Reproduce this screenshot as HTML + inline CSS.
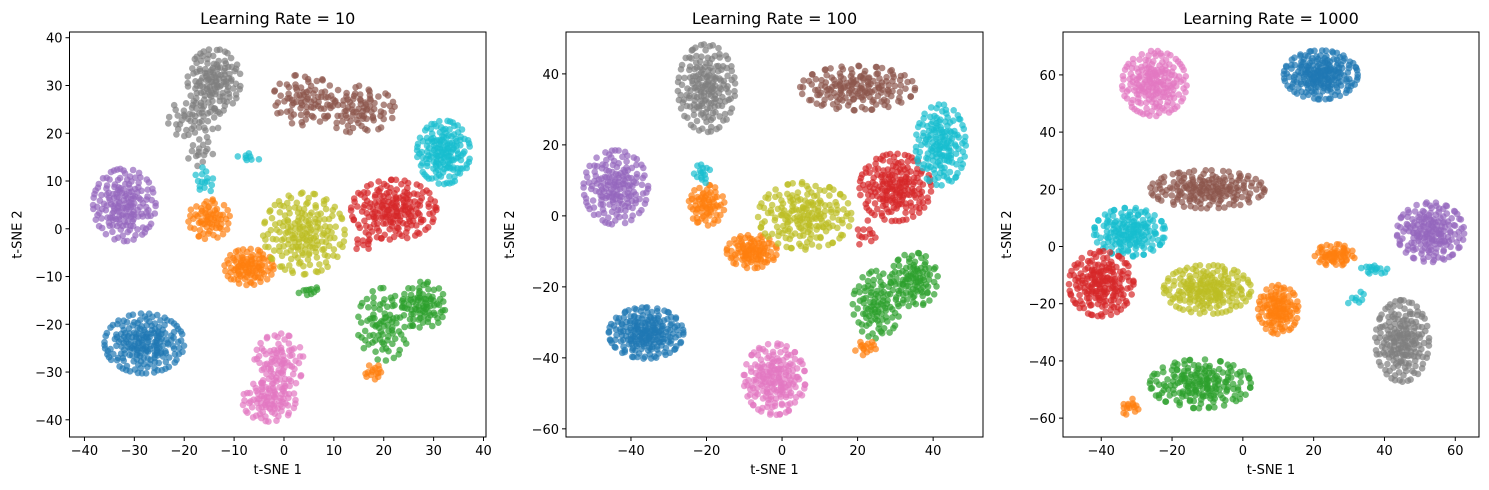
<!DOCTYPE html>
<html><head><meta charset="utf-8">
<style>
body{margin:0;background:#fff;}
svg{display:block;font-family:"DejaVu Sans","Liberation Sans",sans-serif;}
</style></head>
<body>
<svg id="chart" width="1489" height="490" viewBox="0 0 1489 490" xmlns="http://www.w3.org/2000/svg"></svg>
<script>
// Cluster data per panel: color index, center x, center y, spread x, spread y, count
const colors = ["#1f77b4","#ff7f0e","#2ca02c","#d62728","#9467bd","#8c564b","#e377c2","#7f7f7f","#bcbd22","#17becf"];
const titles = ["Learning Rate = 10","Learning Rate = 100","Learning Rate = 1000"];
const xTicks1 = [-40,-30,-20,-10,0,10,20,30,40];
const yTicks1 = [-40,-30,-20,-10,0,10,20,30,40];
const xTicks2 = [-40,-20,0,20,40];
const yTicks2 = [-60,-40,-20,0,20,40];
const xTicks3 = [-40,-20,0,20,40,60];
const yTicks3 = [-60,-40,-20,0,20,40,60];
const clusters1 = [
 [0,-28,-24,4.2,3.3,200],[6,-1,-28,2.6,3.2,90],[6,-3,-36,2.8,2.3,90],
 [2,20,-20,2.8,4,90],[2,28,-16,2.3,2.6,80],[1,18,-30,1.1,0.8,15],
 [3,22,4,4.5,3.3,190],[9,32,16,2.8,3.5,160],
 [5,4,27,3.3,2.8,80],[5,15,25,3.8,2.6,90],
 [7,-14,31,2.8,3.5,130],[7,-18,23,2.8,2.3,50],[7,-17,16,1.5,1.5,15],
 [4,-32,5,3.3,4,170],[1,-15,2,2.2,2.2,70],[1,-7,-8,2.6,2,100],
 [8,4,-1,4.3,4.5,190],[2,5,-13,1.2,0.5,10],[9,-16,10,1,1.5,15],[9,-7,15,1.2,0.5,8],[3,16,-3,1.2,1,10]
];
const clusters2 = [
 [0,-36,-33,5.2,3.8,210],[6,-2,-46,4.3,5.3,190],
 [2,25,-25,3.3,5,100],[2,35,-18,3.3,4,100],[1,22,-37,1.5,1.2,15],
 [3,30,8,5,5,190],[9,42,20,3.5,6,160],
 [5,20,36,8,3.3,170],[7,-20,36,4,6.5,180],
 [4,-44,8,4.5,5.5,170],[1,-20,3,2.5,3,70],[1,-8,-10,3.5,2.5,100],
 [8,6,0,6.5,5,190],[9,-21,12,1.2,1.5,15],[3,22,-5,1.5,2,12]
];
const clusters3 = [
 [0,22,60,5.5,4.5,210],[6,-25,57,4.8,6,190],
 [5,-10,20,8.5,3.5,180],[9,-32,5,5.3,4.5,170],
 [3,-40,-13,4.8,6,190],[8,-10,-15,6.5,4.5,190],
 [1,10,-22,3,4.5,120],[1,26,-3,3,2,60],
 [2,-12,-48,7.5,4.5,190],[1,-32,-56,1.5,1.5,15],
 [4,53,5,5,5.5,180],[7,45,-33,4,7.5,190],[9,37,-8,2,1,15],[9,32,-18,1.5,1.5,8]
];
const panels = [
 {name:"panel-lr-10", box:[69.5,32,486,437], xd:[-43,40.5], yd:[-43.6,41.2], xt:xTicks1, yt:yTicks1, cl:clusters1, t:titles[0]},
 {name:"panel-lr-100", box:[566,32,983,437], xd:[-57.2,53.2], yd:[-62.3,51.8], xt:xTicks2, yt:yTicks2, cl:clusters2, t:titles[1]},
 {name:"panel-lr-1000", box:[1063,32,1479,437], xd:[-50.8,66.7], yd:[-66.6,75], xt:xTicks3, yt:yTicks3, cl:clusters3, t:titles[2]}
];
const NS="http://www.w3.org/2000/svg";
const svg=document.getElementById('chart');
function mk(tag,attrs,parent){const e=document.createElementNS(NS,tag);for(const k in attrs)e.setAttribute(k,attrs[k]);(parent||svg).appendChild(e);return e;}
function halton(i,b){let f=1,r=0;while(i>0){f/=b;r+=f*(i%b);i=Math.floor(i/b);}return r;}
let seedIdx=1;
panels.forEach((p,pi)=>{
 const [L,T,R,B]=p.box;
 const sx=v=>L+(v-p.xd[0])/(p.xd[1]-p.xd[0])*(R-L);
 const sy=v=>B-(v-p.yd[0])/(p.yd[1]-p.yd[0])*(B-T);
 const g=mk('g',{});
 
 
 const pts=mk('g',{},g);
 
 
 p.cl.forEach(c=>{
  for(let k=0;k<c[5];k++){
   seedIdx++;
   const u1=Math.max(halton(seedIdx,2),1e-3),u2=halton(seedIdx,3);
   let rr=Math.sqrt(-2*Math.log(u1)); if(rr>1.9) rr=1.9;
   const dx=rr*Math.cos(2*Math.PI*u2)*c[3], dy=rr*Math.sin(2*Math.PI*u2)*c[4];
   const pt=mk('circle',{cx:sx(c[1]+dx).toFixed(1),cy:sy(c[2]+dy).toFixed(1),r:3.3,fill:colors[c[0]],'fill-opacity':0.7},pts);
   
   
  }
 });
 const frame=mk('rect',{x:L,y:T,width:R-L,height:B-T,fill:'none',stroke:'#000','stroke-width':1},g);
 
 
 p.xt.forEach(v=>{
  const x=sx(v);
  mk('line',{x1:x,x2:x,y1:B,y2:B+4,stroke:'#000'},g);
  const t=mk('text',{x:x,y:B+18,'font-size':13,'text-anchor':'middle',fill:'#000'},g);
  t.textContent=(v<0?'\u2212'+(-v):v);
  
  
 });
 p.yt.forEach(v=>{
  const y=sy(v);
  mk('line',{x1:L-4,x2:L,y1:y,y2:y,stroke:'#000'},g);
  const t=mk('text',{x:L-7,y:y+5,'font-size':13,'text-anchor':'end',fill:'#000'},g);
  t.textContent=(v<0?'\u2212'+(-v):v);
  
  
 });
 const tt=mk('text',{x:(L+R)/2,y:24,'font-size':16,'text-anchor':'middle',fill:'#000'},g);
 tt.textContent=p.t;
 
 
 const xl=mk('text',{x:(L+R)/2,y:B+37,'font-size':13,'text-anchor':'middle',fill:'#000'},g);
 xl.textContent='t-SNE 1';
 
 
 const yx=L-(pi==0?48:52), yy=(T+B)/2;
 const yl=mk('text',{x:yx,y:yy,'font-size':13,'text-anchor':'middle',fill:'#000',transform:`rotate(-90 ${yx} ${yy})`},g);
 yl.textContent='t-SNE 2';
 
 
});
</script>
</body></html>
